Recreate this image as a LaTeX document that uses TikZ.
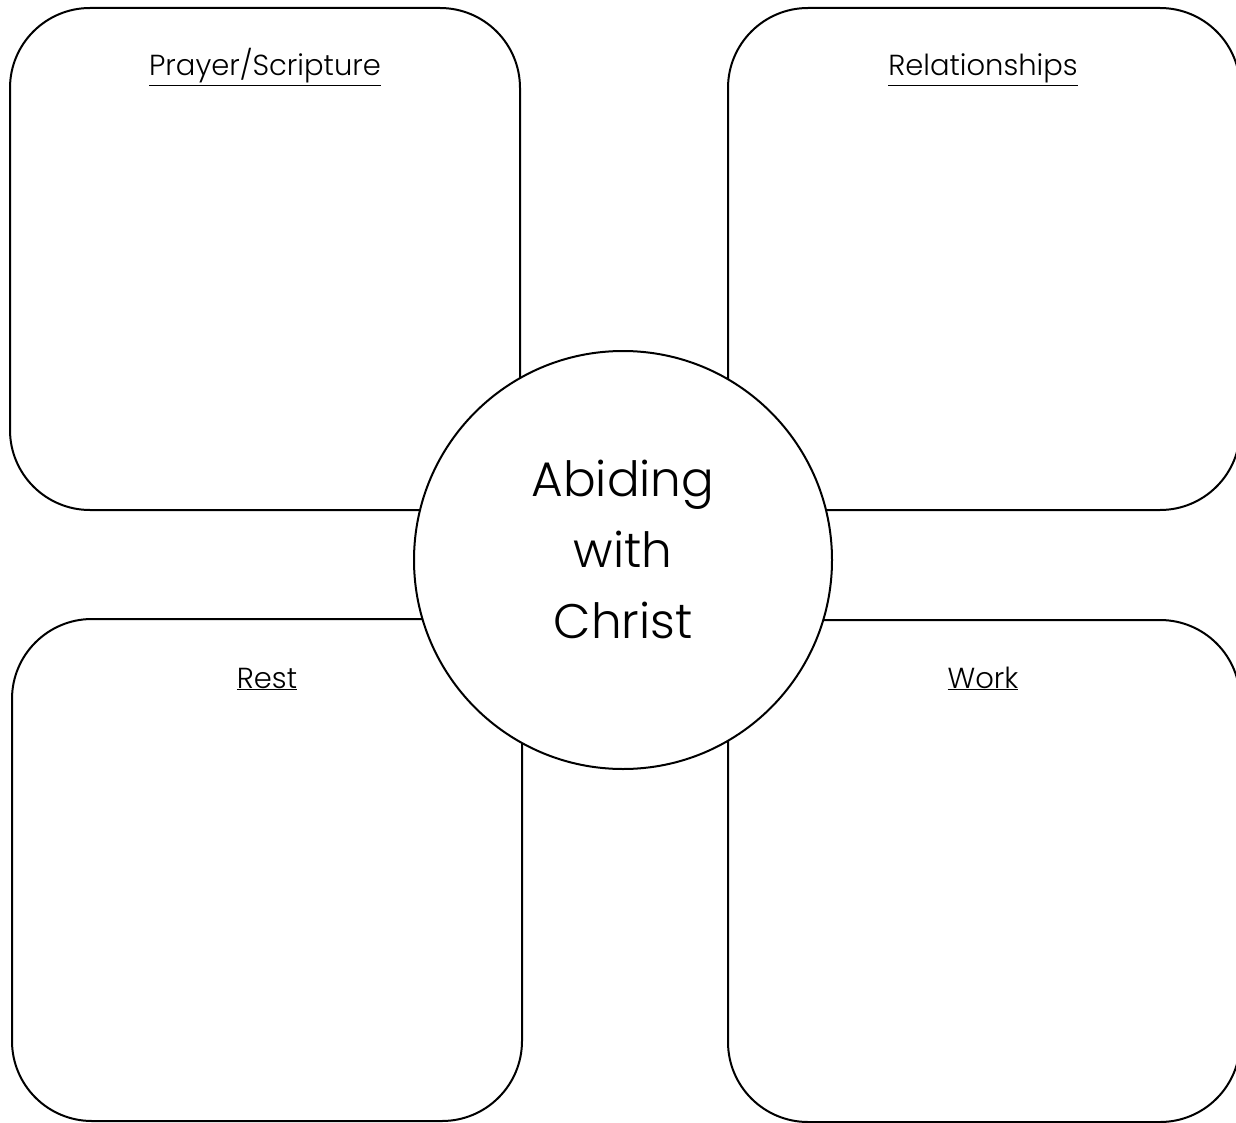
\documentclass[tikz,border=0pt]{standalone}
\usepackage{fontspec}
\setmainfont{Poppins}[UprightFont={* Light}]
\usepackage{tikz}
\usetikzlibrary{positioning}

\tikzset{
  quadbox/.style={draw, line width=2pt, rounded corners=80pt, minimum width=510pt, minimum height=502pt, inner sep=0pt},
  quadtitle/.style={font=\fontsize{29}{34}\selectfont, inner sep=0pt, anchor=base},
}

\begin{document}
\begin{tikzpicture}[x=1pt,y=-1pt]
\useasboundingbox (0,0) rectangle (1236,1123);
% the four boxes
\node[quadbox] (pray) at (265,259) {};
\node[quadbox, minimum width=512pt] (rel) at (984,259) {};
\node[quadbox] (rest) at (267,870) {};
\node[quadbox, minimum width=512pt] (work) at (984,871) {};
% titles
\node[quadtitle] (praytitle) at (265,76) {\underline{Prayer/Scripture}};
\node[quadtitle] (reltitle) at (983,76) {\underline{Relationships}};
\node[quadtitle] (resttitle) at (267,688) {\underline{Rest}};
\node[quadtitle] (worktitle) at (983,688) {\underline{Work}};
% centre
\node[draw, fill=white, line width=2pt, circle, minimum size=418pt, inner sep=0pt] (abide) at (623,560) {};
\node[align=center, font=\fontsize{48.5}{71}\selectfont, inner sep=0pt, anchor=base] (abidetext) at (623,638) {Abiding\\with\\Christ};
\end{tikzpicture}
\end{document}
